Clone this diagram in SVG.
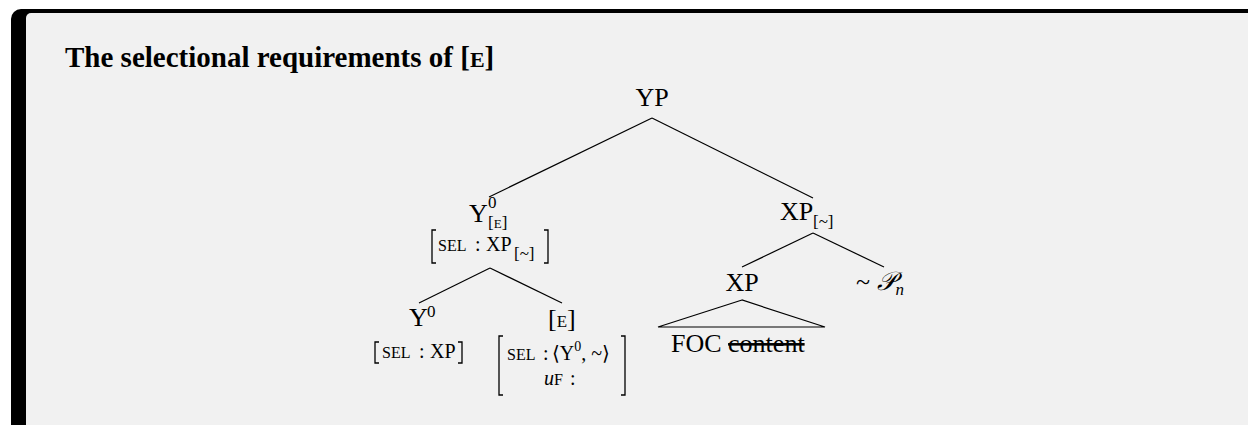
<svg xmlns="http://www.w3.org/2000/svg" width="1248" height="425" viewBox="0 0 1248 425">
<style>
text { font-family: "Liberation Serif", "DejaVu Serif", serif; fill: #000; }
.n { font-size: 26px; }
.m { font-size: 20px; }
.sc { font-size: 16px; }
.sub { font-size: 17px; }
.title { font-size: 29px; font-weight: bold; }
.edge { stroke: #000; stroke-width: 1.2; fill: none; }
.brk { stroke: #000; stroke-width: 1.3; fill: none; }
</style>
<rect x="0" y="0" width="1248" height="425" fill="#ffffff"/>
<rect x="11" y="9" width="1260" height="440" rx="10" ry="10" fill="#000000"/>
<rect x="26" y="13" width="1250" height="440" rx="5" ry="5" fill="#f1f1f1"/>

<g id="title">
<text class="title" x="65" y="67">The selectional requirements of [<tspan font-size="22px">E</tspan>]</text>
</g>

<g id="connectors">
<line class="edge" x1="652" y1="118" x2="489" y2="197"/>
<line class="edge" x1="652" y1="118" x2="813" y2="198"/>
<line class="edge" x1="490" y1="268" x2="419" y2="303"/>
<line class="edge" x1="490" y1="268" x2="562" y2="303"/>
<line class="edge" x1="813" y1="233" x2="742" y2="267"/>
<line class="edge" x1="813" y1="233" x2="884" y2="267"/>
</g>

<g id="node-YP">
<text class="n" x="652" y="106" text-anchor="middle">YP</text>
</g>

<g id="node-Y0E">
<text class="n" x="469" y="222">Y</text>
<text class="sub" x="488" y="208">0</text>
<text class="sub" x="488" y="228">[<tspan font-size="13px">E</tspan>]</text>
<path class="brk" d="M436,230 H432 V263 H436"/>
<path class="brk" d="M544,230 H548 V263 H544"/>
<text class="m" x="438" y="251"><tspan class="sc">SEL</tspan><tspan x="475">:</tspan><tspan x="486">XP</tspan></text>
<text class="sub" x="514" y="259">[~]</text>
</g>

<g id="node-Y0">
<text class="n" x="409" y="326">Y</text>
<text class="sub" x="427" y="317">0</text>
<path class="brk" d="M379,342 H375 V363 H379"/>
<path class="brk" d="M458,342 H462 V363 H458"/>
<text class="m" x="382" y="358"><tspan class="sc">SEL</tspan><tspan x="419">:</tspan><tspan x="430">XP</tspan></text>
</g>

<g id="node-E">
<text class="n" x="548" y="327">[<tspan font-size="17px">E</tspan>]</text>
<path class="brk" d="M503,336 H499 V395 H503"/>
<path class="brk" d="M621,336 H625 V395 H621"/>
<text class="m" x="507" y="360"><tspan class="sc">SEL</tspan><tspan x="543">:</tspan><tspan x="552">⟨Y</tspan><tspan font-size="14px" dy="-9">0</tspan><tspan dy="9">, ~⟩</tspan></text>
<text class="m" x="544" y="385"><tspan font-style="italic">u</tspan><tspan class="sc">F</tspan><tspan x="570">:</tspan></text>
</g>

<g id="node-XPtilde">
<text class="n" x="780" y="220">XP</text>
<text class="sub" x="813" y="227">[~]</text>
</g>

<g id="node-XP">
<text class="n" x="742" y="291" text-anchor="middle">XP</text>
<path class="edge" d="M742,300 L658,327 H825 Z"/>
<text class="n" x="671" y="352">FOC <tspan style="text-decoration: line-through">content</tspan></text>
</g>

<g id="node-Pn">
<text class="n" x="856" y="290">~ <tspan font-style="italic" font-family="DejaVu Serif, Liberation Serif, serif">𝒫</tspan><tspan class="sub" font-style="italic" dy="5">n</tspan></text>
</g>
</svg>
